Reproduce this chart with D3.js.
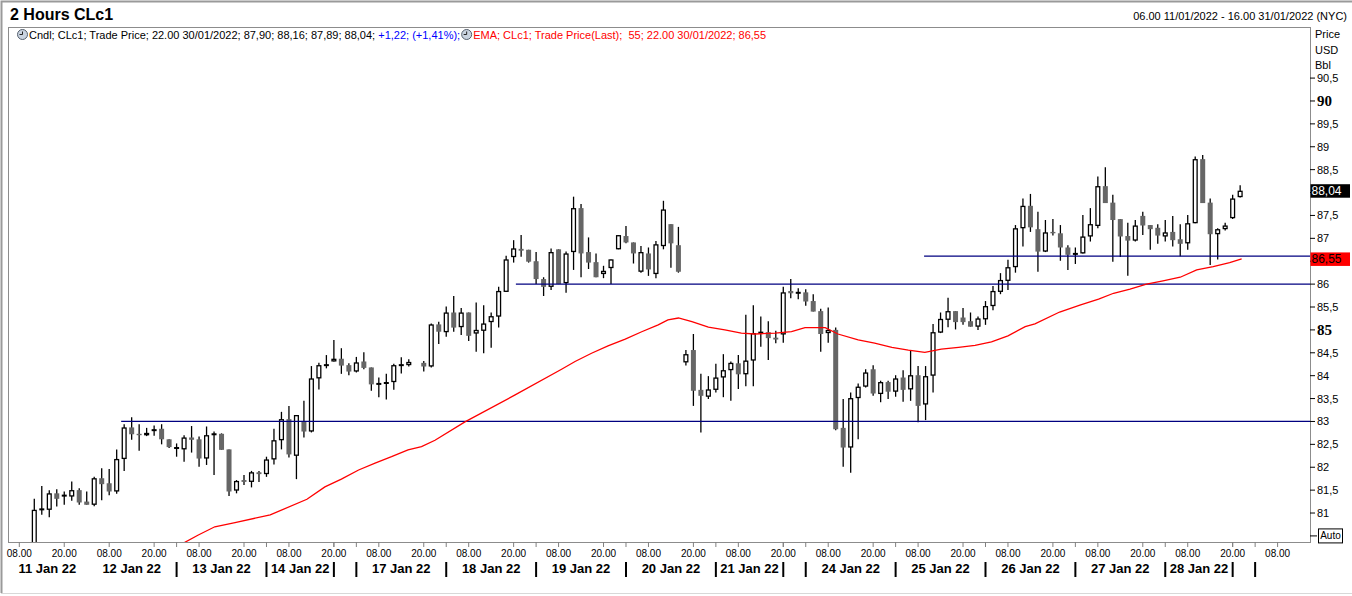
<!DOCTYPE html>
<html>
<head>
<meta charset="utf-8">
<script src="https://cdn.jsdelivr.net/npm/d3@7"></script>
<style>
    body { margin: 0; background: #fff; }
    svg { display: block; font-family: "Liberation Sans", Arial, sans-serif; }
    .pre { white-space: pre; }
</style>
</head>
<body>
<svg id="chart" width="1352" height="596"></svg>
<script>
// 2-hour candles, one per slot (slot 1 = first bar), slot 52 has no bar
const opens = [
    80.25, 81.06, 81.07, 81.43, 81.37, 81.36, 81.50, 81.25, 81.18, 81.76,
    81.65, 81.47, 82.18, 82.87, 82.73, 82.70, 82.81, 82.84, 82.61, 82.44,
    82.39, 82.65, 82.61, 82.19, 82.72, 82.73, 82.39, 81.49, 81.72, 81.68,
    81.89, 81.85, 82.17, 82.59, 83.05, 82.25, 83.00, 82.78, 83.94, 84.23,
    84.31, 84.37, 84.23, 84.09, 84.31, 84.18, 83.82, 83.85, 83.86, 84.23,
    84.23, null, 84.28, 84.20, 85.12, 84.95, 85.38, 85.06, 85.38, 84.92,
    84.98, 85.17, 85.29, 85.83, 86.59, 86.77, 86.75, 86.50, 86.11, 85.94,
    86.76, 86.02, 86.70, 87.66, 86.70, 86.48, 86.22, 86.35, 86.76, 87.05,
    86.91, 86.27, 86.67, 86.22, 86.83, 87.31, 86.85, 84.29, 84.56, 83.69,
    83.54, 83.69, 83.96, 84.12, 84.27, 84.03, 84.33, 84.92, 84.95, 84.83,
    84.90, 85.85, 85.81, 85.82, 85.63, 85.41, 84.93, 85.00, 82.86, 82.43,
    83.51, 83.76, 84.14, 83.60, 83.86, 83.65, 83.96, 83.70, 84.01, 83.37,
    84.00, 84.94, 85.22, 85.41, 85.27, 85.19, 85.07, 85.23, 85.52, 85.83,
    86.07, 86.37, 87.22, 87.71, 87.20, 86.71, 87.14, 87.11, 86.80, 86.66,
    86.67, 87.04, 87.27, 88.14, 87.78, 87.42, 87.05, 86.95, 87.49, 87.29,
    87.23, 87.04, 87.14, 86.98, 86.89, 87.33, 88.73, 87.78, 87.09, 87.20,
    87.44, 87.90
];
const highs = [
    81.31, 81.59, 81.50, 81.52, 81.47, 81.69, 81.54, 81.47, 81.79, 81.98,
    81.96, 82.39, 82.94, 83.09, 82.94, 82.86, 82.91, 82.94, 82.61, 82.52,
    82.70, 82.90, 82.67, 82.89, 82.78, 82.74, 82.39, 81.72, 81.83, 81.92,
    81.92, 82.23, 82.84, 83.21, 83.34, 83.14, 83.45, 84.21, 84.28, 84.45,
    84.78, 84.60, 84.27, 84.41, 84.51, 84.18, 83.96, 84.04, 84.26, 84.40,
    84.36, null, 84.32, 85.14, 85.18, 85.51, 85.74, 85.48, 85.38, 85.60,
    85.54, 85.38, 85.94, 86.62, 86.96, 87.07, 86.75, 86.70, 86.15, 86.78,
    86.76, 86.71, 87.91, 87.75, 87.02, 86.67, 86.40, 86.54, 87.07, 87.27,
    86.91, 86.83, 86.80, 86.94, 87.82, 87.31, 87.25, 84.56, 84.91, 84.04,
    83.99, 84.26, 84.47, 84.31, 84.45, 85.33, 85.54, 85.29, 85.19, 84.98,
    85.94, 86.11, 85.91, 85.89, 85.78, 85.46, 85.49, 85.05, 83.49, 83.63,
    83.83, 84.14, 84.23, 83.89, 83.89, 84.01, 84.12, 84.54, 84.21, 84.21,
    85.13, 85.38, 85.70, 85.41, 85.48, 85.38, 85.29, 85.63, 85.96, 86.24,
    86.53, 87.29, 87.87, 87.97, 87.58, 87.40, 87.42, 87.29, 86.85, 86.80,
    87.51, 87.66, 88.35, 88.55, 87.95, 87.42, 87.34, 87.40, 87.58, 87.29,
    87.31, 87.40, 87.49, 87.31, 87.51, 88.79, 88.82, 87.87, 87.22, 87.34,
    87.95, 88.16
];
const lows = [
    80.15, 80.96, 80.91, 81.14, 81.18, 81.27, 81.18, 81.18, 81.15, 81.28,
    81.39, 81.42, 81.92, 82.60, 82.36, 82.68, 82.69, 82.50, 82.42, 82.23,
    82.12, 82.32, 82.01, 82.05, 81.83, 82.38, 81.37, 81.43, 81.61, 81.56,
    81.68, 81.79, 82.06, 82.39, 82.21, 81.74, 82.65, 82.76, 83.70, 84.16,
    84.31, 84.04, 84.01, 84.07, 84.14, 83.67, 83.53, 83.48, 83.69, 84.05,
    84.20, null, 84.09, 84.18, 84.69, 84.85, 84.96, 84.89, 84.76, 84.52,
    84.49, 84.61, 85.05, 85.83, 86.47, 86.60, 86.47, 86.00, 85.74, 85.87,
    86.00, 85.81, 86.31, 86.15, 86.33, 86.15, 86.13, 86.00, 86.76, 86.89,
    86.45, 86.25, 86.18, 86.13, 86.76, 86.36, 86.25, 84.22, 83.34, 82.76,
    83.49, 83.63, 83.53, 83.45, 83.71, 83.77, 83.77, 84.63, 84.34, 84.71,
    84.72, 85.69, 85.67, 85.53, 85.40, 84.52, 84.72, 82.81, 82.01, 81.88,
    82.61, 83.74, 83.56, 83.42, 83.49, 83.54, 83.43, 83.45, 82.98, 83.03,
    83.63, 84.93, 85.06, 85.01, 85.11, 85.07, 85.00, 85.11, 85.43, 85.78,
    85.87, 86.25, 86.82, 87.14, 86.27, 86.70, 87.06, 86.51, 86.31, 86.44,
    86.67, 86.93, 87.22, 87.77, 86.49, 86.59, 86.18, 86.93, 87.07, 86.75,
    86.88, 86.93, 86.82, 86.61, 86.75, 87.33, 87.77, 86.42, 86.54, 87.17,
    87.42, 87.89
];
const closes = [
    81.07, 81.08, 81.43, 81.31, 81.38, 81.50, 81.23, 81.18, 81.76, 81.63,
    81.47, 82.18, 82.87, 82.72, 82.70, 82.75, 82.81, 82.61, 82.44, 82.42,
    82.65, 82.60, 82.19, 82.70, 82.72, 82.38, 81.47, 81.70, 81.68, 81.89,
    81.85, 82.17, 82.59, 83.05, 82.28, 83.14, 82.78, 83.94, 84.23, 84.23,
    84.37, 84.22, 84.09, 84.29, 84.17, 83.81, 83.82, 83.84, 84.23, 84.23,
    84.30, null, 84.20, 85.12, 84.96, 85.38, 85.05, 85.38, 84.87, 85.00,
    85.14, 85.30, 85.85, 86.54, 86.78, 86.73, 86.49, 86.11, 85.94, 86.70,
    86.00, 86.67, 87.66, 86.67, 86.47, 86.15, 86.29, 86.54, 87.07, 86.91,
    86.67, 86.70, 86.32, 86.87, 87.63, 86.89, 86.27, 84.47, 83.67, 83.56,
    83.70, 83.96, 84.12, 84.28, 84.03, 84.33, 84.93, 84.94, 84.82, 84.79,
    85.82, 85.80, 85.81, 85.62, 85.40, 84.91, 85.00, 82.83, 82.43, 83.51,
    83.76, 84.07, 83.61, 83.86, 83.65, 83.94, 83.69, 84.01, 83.34, 83.99,
    84.95, 85.24, 85.41, 85.17, 85.17, 85.07, 85.25, 85.52, 85.85, 86.09,
    86.37, 87.22, 87.71, 87.24, 86.71, 87.13, 87.11, 86.80, 86.64, 86.66,
    87.04, 87.31, 88.14, 87.77, 87.40, 87.04, 86.95, 87.28, 87.28, 87.20,
    87.06, 87.13, 86.96, 86.88, 87.33, 88.73, 87.77, 87.09, 87.20, 87.28,
    87.87, 88.04
];

// EMA(55) at these slots
const emaSlots = [20.2, 22.9, 25.1, 27.8, 32.5, 37.4, 39.8, 42.0, 44.3, 46.5,
    48.7, 50.9, 52.7, 54.5, 58.5, 65.2, 71.4, 73.2, 75.4, 77.6,
    79.9, 82.1, 84.3, 85.6, 87.0, 88.8, 91.0, 93.2, 95.4, 97.2,
    99.9, 102.1, 103.9, 106.6, 108.3, 111.0, 113.2, 115.5, 117.7, 119.9,
    122.1, 124.4, 126.6, 128.8, 131.0, 133.3, 134.6, 137.9, 140.6, 143.1,
    145.1, 147.3, 149.5, 151.7, 154.0, 156.2, 158.4, 160.6, 162.2];
const emaValues = [80.28, 80.52, 80.70, 80.79, 80.96, 81.30, 81.57, 81.74, 81.94, 82.09,
    82.23, 82.38, 82.45, 82.59, 82.99, 83.58, 84.14, 84.31, 84.49, 84.65,
    84.80, 84.96, 85.11, 85.22, 85.26, 85.18, 85.06, 85.00, 84.93, 84.91,
    84.93, 84.96, 85.05, 85.05, 84.91, 84.78, 84.71, 84.62, 84.56, 84.51,
    84.58, 84.62, 84.66, 84.74, 84.87, 85.07, 85.13, 85.39, 85.54, 85.67,
    85.80, 85.89, 86.00, 86.07, 86.15, 86.31, 86.38, 86.47, 86.55];

// drawn support levels and the slot each one starts at
const levelPrices = [83.0, 86.0, 86.61];
const levelStarts = [12.6, 65.3, 119.8];

// time axis
const hourLabels = d3.range(29).map(k => k % 2 === 0 ? '08.00' : '20.00');
const hourSlots = d3.range(29).map(k => 6 * k - 1);
const dayEnds = [8, 20, 32, 41, 44, 56, 68, 80, 92, 101, 104, 116, 128, 140, 152, 161, 164];
const dayLabels = ['11 Jan 22', '12 Jan 22', '13 Jan 22', '14 Jan 22', '', '17 Jan 22', '18 Jan 22',
    '19 Jan 22', '20 Jan 22', '21 Jan 22', '', '24 Jan 22', '25 Jan 22', '26 Jan 22',
    '27 Jan 22', '28 Jan 22', ''];

// price axis
const priceTicks = d3.range(81, 90.51, 0.5);
const lastChange = 1.22;
const lastChangePct = 1.41;
const emaPeriod = 55;

const svg = d3.select('#chart');
const plot = { left: 8, top: 27, right: 1310, bottom: 542 };

const x = d3.scaleLinear().domain([0, 167]).range([26.8, 1277.6]);
const y = d3.scaleLinear().domain([80.367, 91.616]).range([plot.bottom, plot.top]);
const fmt = v => v.toFixed(2).replace('.', ',');
const fmtTick = v => Number.isInteger(v) ? String(v) : v.toFixed(1).replace('.', ',');

const last = opens.length - 1;
const lastEma = emaValues[emaValues.length - 1];
const tagValues = [closes[last], lastEma];

// page frame
svg.append('rect').attr('width', 1352).attr('height', 596).attr('fill', '#fff');
svg.append('path').attr('d', 'M1.5,593 V1.5 H1352').attr('fill', 'none').attr('stroke', '#9a9a9a').attr('stroke-width', 2);
svg.append('line').attr('x1', 1).attr('x2', 1352).attr('y1', 593.5).attr('y2', 593.5).attr('stroke', '#d8d8d8');

// header
svg.append('text').attr('x', 10).attr('y', 20).attr('font-size', 16).attr('font-weight', 'bold')
    .attr('fill', '#000').text('2 Hours CLc1');
svg.append('text').attr('x', 1347).attr('y', 19.5).attr('text-anchor', 'end').attr('font-size', 11)
    .text('06.00 11/01/2022 - 16.00 31/01/2022 (NYC)');

svg.append('defs').append('clipPath').attr('id', 'plot-clip')
    .append('rect').attr('x', plot.left).attr('y', plot.top)
    .attr('width', plot.right - plot.left).attr('height', plot.bottom - plot.top);

svg.append('rect')
    .attr('x', plot.left + 0.5).attr('y', plot.top + 0.5)
    .attr('width', plot.right - plot.left).attr('height', plot.bottom - plot.top)
    .attr('fill', 'none').attr('stroke', '#8c8c8c');

// legend row
function clockIcon(cx, cy) {
    const g = svg.append('g');
    g.append('circle').attr('cx', cx).attr('cy', cy).attr('r', 5)
        .attr('fill', '#c9d3e0').attr('stroke', '#55606e').attr('stroke-width', 1);
    g.append('path').attr('d', `M${cx},${cy - 3} V${cy} H${cx - 3}`)
        .attr('fill', 'none').attr('stroke', '#222').attr('stroke-width', 1);
}
clockIcon(22.5, 34.5);
const legend1 = svg.append('text').attr('class', 'pre').attr('x', 29).attr('y', 38.5).attr('font-size', 11);
legend1.append('tspan').attr('fill', '#000')
    .text(`Cndl; CLc1; Trade Price; 22.00 30/01/2022; ${fmt(opens[last])}; ${fmt(highs[last])}; ${fmt(lows[last])}; ${fmt(closes[last])}; `);
legend1.append('tspan').attr('fill', '#0000ff')
    .text(`+${fmt(lastChange)}; (+${fmt(lastChangePct)}%);`);
const legendEnd = 29 + legend1.node().getComputedTextLength();
clockIcon(legendEnd + 6.5, 34.5);
svg.append('text').attr('class', 'pre').attr('x', legendEnd + 13).attr('y', 38.5).attr('font-size', 11)
    .attr('fill', '#ff0000')
    .text(`EMA; CLc1; Trade Price(Last);  ${emaPeriod}; 22.00 30/01/2022; ${fmt(lastEma)}`);

// price axis on the right
['Price', 'USD', 'Bbl'].forEach((t, i) => {
    svg.append('text').attr('x', 1315).attr('y', 38 + i * 15.5).attr('font-size', 11).text(t);
});
const yAxis = svg.append('g');
priceTicks.forEach(v => {
    yAxis.append('line').attr('x1', plot.right).attr('x2', plot.right + 5)
        .attr('y1', y(v)).attr('y2', y(v)).attr('stroke', '#000');
    // labels sitting under a last-value tag are hidden, as in the terminal
    if (tagValues.some(t => Math.abs(y(t) - y(v)) < 10)) return;
    const bold = v % 5 === 0;
    yAxis.append('text').attr('x', plot.right + 7).attr('y', y(v) + (bold ? 5 : 4))
        .attr('font-size', bold ? 15 : 11)
        .attr('font-weight', bold ? 'bold' : 'normal')
        .attr('font-family', bold ? '"Liberation Serif", "Times New Roman", serif' : null)
        .text(fmtTick(v));
});
const autoY = y(80.5);
yAxis.append('line').attr('x1', plot.right).attr('x2', plot.right + 7)
    .attr('y1', autoY).attr('y2', autoY).attr('stroke', '#000');
yAxis.append('rect').attr('x', 1318.5).attr('y', autoY - 7).attr('width', 24).attr('height', 14)
    .attr('fill', '#fff').attr('stroke', '#000');
yAxis.append('text').attr('x', 1330.5).attr('y', autoY + 3.5).attr('text-anchor', 'middle')
    .attr('font-size', 10).text('Auto');

// time axis
const xAxis = svg.append('g');
hourSlots.forEach((s, i) => {
    xAxis.append('line').attr('x1', x(s)).attr('x2', x(s)).attr('y1', plot.bottom).attr('y2', plot.bottom + 5)
        .attr('stroke', '#808080');
    xAxis.append('text').attr('x', x(s)).attr('y', 556.5).attr('text-anchor', 'middle')
        .attr('font-size', 10).text(hourLabels[i]);
});
dayEnds.forEach((s, i) => {
    const start = i === 0 ? plot.left : x(dayEnds[i - 1]);
    if (dayLabels[i]) {
        xAxis.append('text').attr('x', (start + x(s)) / 2).attr('y', 572.5)
            .attr('text-anchor', 'middle').attr('font-size', 13).attr('font-weight', 'bold')
            .text(dayLabels[i]);
    }
    if (i === 0) return;
    xAxis.append('line').attr('x1', x(s)).attr('x2', x(s)).attr('y1', plot.bottom).attr('y2', plot.bottom + 5)
        .attr('stroke', '#808080');
    xAxis.append('line').attr('x1', x(s)).attr('x2', x(s)).attr('y1', 562).attr('y2', 577)
        .attr('stroke', '#000').attr('stroke-width', 2);
});

// candles
const candles = opens.map((o, i) => ({ slot: i + 1, o, h: highs[i], l: lows[i], c: closes[i] }))
    .filter(d => d.o !== null);
const chart = svg.append('g').attr('clip-path', 'url(#plot-clip)');
const bodyW = 5;

chart.append('g').selectAll('line').data(candles).enter().append('line')
    .attr('x1', d => x(d.slot)).attr('x2', d => x(d.slot))
    .attr('y1', d => y(d.h)).attr('y2', d => y(d.l))
    .attr('stroke', '#000').attr('stroke-width', 1.3);

const isDoji = d => Math.abs(d.c - d.o) < 0.03;
chart.append('g').selectAll('rect').data(candles.filter(d => !isDoji(d))).enter().append('rect')
    .attr('x', d => x(d.slot) - bodyW / 2 + (d.c > d.o ? 0.6 : 0))
    .attr('y', d => y(Math.max(d.o, d.c)) + (d.c > d.o ? 0.6 : 0))
    .attr('width', d => bodyW - (d.c > d.o ? 1.2 : 0))
    .attr('height', d => Math.max(Math.abs(y(d.o) - y(d.c)) - (d.c > d.o ? 1.2 : 0), 1.2))
    .attr('fill', d => d.c > d.o ? '#fff' : '#666')
    .attr('stroke', d => d.c > d.o ? '#000' : 'none')
    .attr('stroke-width', 1.3);

chart.append('g').selectAll('rect').data(candles.filter(isDoji)).enter().append('rect')
    .attr('x', d => x(d.slot) - bodyW / 2).attr('y', d => y(d.c) - 1)
    .attr('width', bodyW).attr('height', 2).attr('fill', '#000');

// support lines
levelPrices.forEach((p, i) => {
    chart.append('line').attr('x1', x(levelStarts[i])).attr('x2', plot.right)
        .attr('y1', y(p)).attr('y2', y(p))
        .attr('stroke', '#000080').attr('stroke-width', 1.3);
});

// EMA line
const emaLine = d3.line().x(d => x(d[0])).y(d => y(d[1]));
chart.append('path').datum(emaSlots.map((s, i) => [s, emaValues[i]]))
    .attr('d', emaLine).attr('fill', 'none').attr('stroke', '#ff0000').attr('stroke-width', 1.3);

// last-value tags
function priceTag(v, bg, fg) {
    svg.append('rect').attr('x', plot.right + 0.5).attr('y', y(v) - 6.5).attr('width', 39.5).attr('height', 13.5)
        .attr('fill', bg);
    svg.append('text').attr('x', plot.right + 1.5).attr('y', y(v) + 4.5).attr('font-size', 12)
        .attr('fill', fg).text(fmt(v));
}
tagValues.forEach((v, i) => priceTag(v, i === 0 ? '#000' : '#ff0000', i === 0 ? '#fff' : '#000'));
</script>
</body>
</html>
